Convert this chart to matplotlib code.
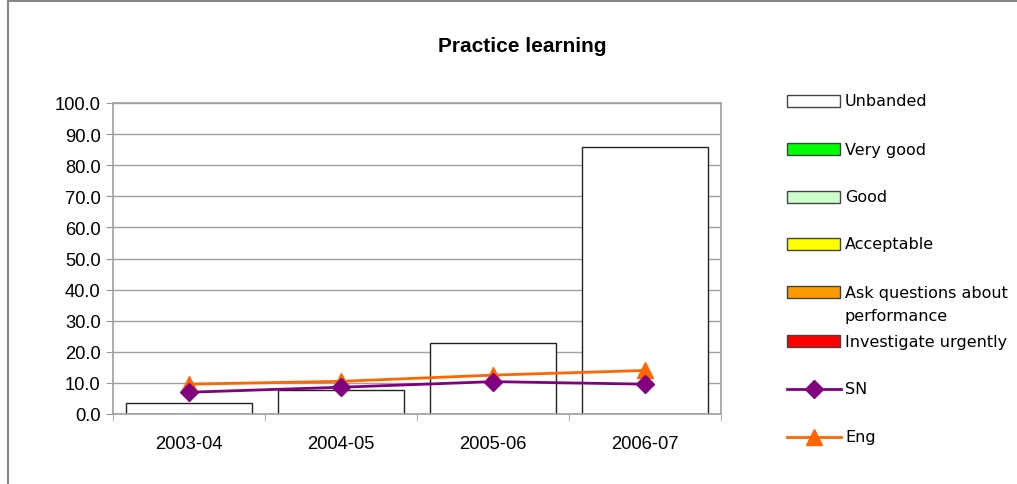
import matplotlib
matplotlib.use("Agg")
from matplotlib import pyplot as plt
from matplotlib.patches import Rectangle
from matplotlib.lines import Line2D
import numpy as np

# Data
years = ["2003-04", "2004-05", "2005-06", "2006-07"]
unbanded = [3.4, 7.8, 22.7, 85.7]
sn = [7.0, 8.6, 10.4, 9.6]
eng = [9.6, 10.5, 12.5, 14.0]

legend_names = ["Unbanded", "Very good", "Good", "Acceptable",
                "Ask questions about\nperformance", "Investigate urgently"]
legend_colors = ["#FFFFFF", "#00FF00", "#CCFFCC", "#FFFF00", "#FF9900", "#FF0000"]

W, H = 1017, 485
fig = plt.figure(figsize=(W / 100, H / 100), dpi=100)

# outer chart frame (top and left edges visible)
fig.add_artist(Line2D([8 / W, 8 / W], [0, 1 - 2 / H], transform=fig.transFigure,
                      color="#888888", lw=1.5))
fig.add_artist(Line2D([8 / W, 1], [1 - 2 / H, 1 - 2 / H], transform=fig.transFigure,
                      color="#888888", lw=1.5))

# plot area
x0, x1, y_top, y_bot = 113, 721, 104, 415
ax = fig.add_axes([x0 / W, 1 - y_bot / H, (x1 - x0) / W, (y_bot - y_top) / H])

x = np.arange(len(years))
ax.bar(x, unbanded, width=0.83, color="white", edgecolor="#222222", linewidth=1.0, zorder=2)
ax.plot(x, sn, color="#800080", lw=2, marker="D", markersize=9, zorder=4)
ax.plot(x, eng, color="#FF6600", lw=2, marker="^", markersize=11, zorder=3)

ax.set_xlim(-0.5, len(years) - 0.5)
ax.set_ylim(0, 100)
ax.set_yticks(np.arange(0, 101, 10))
ax.set_yticklabels([f"{v:.1f}" for v in np.arange(0, 101, 10)],
                   fontsize=13.2, family="Liberation Sans")
ax.set_xticks(x)
ax.set_xticklabels(years, fontsize=13.2, family="Liberation Sans")
ax.set_xticks(np.arange(-0.5, len(years), 1), minor=True)
ax.tick_params(axis="x", which="major", length=0, pad=15)
ax.tick_params(axis="x", which="minor", length=5, color="#999999")
ax.tick_params(axis="y", length=5, color="#999999", pad=4)
ax.grid(axis="y", color="#A0A0A0", lw=1, zorder=0)
ax.set_axisbelow(True)
for s in ax.spines.values():
    s.set_color("#A0A0A0")
    s.set_linewidth(1.2)

fig.text(522 / W, 1 - 47 / H, "Practice learning", ha="center", va="center",
         fontsize=15, fontweight="bold", family="Liberation Sans")

# legend
lx0, lx1, ltx = 787, 840, 845
rows_y = [102, 150, 198, 245, 293, 342]
fs_leg = 11.5
for name, col, yy in zip(legend_names, legend_colors, rows_y):
    fig.add_artist(Rectangle((lx0 / W, 1 - (yy + 6) / H), (lx1 - lx0) / W, 12 / H,
                             transform=fig.transFigure, facecolor=col,
                             edgecolor="#444444", lw=1))
    if "\n" in name:
        fig.text(ltx / W, 1 - (yy - 7) / H, name, ha="left", va="top",
                 fontsize=fs_leg, family="DejaVu Sans", linespacing=1.65)
    else:
        fig.text(ltx / W, 1 - yy / H, name, ha="left", va="center",
                 fontsize=fs_leg, family="DejaVu Sans")

for name, col, mk, ms, yy in [("SN", "#800080", "D", 9, 390), ("Eng", "#FF6600", "^", 11, 438)]:
    fig.add_artist(Line2D([lx0 / W, (lx1 + 1) / W], [1 - yy / H, 1 - yy / H],
                          transform=fig.transFigure, color=col, lw=2))
    fig.add_artist(Line2D([(lx0 + lx1) / 2 / W], [1 - yy / H], transform=fig.transFigure,
                          color=col, marker=mk, markersize=ms, lw=0))
    fig.text(ltx / W, 1 - yy / H, name, ha="left", va="center",
             fontsize=fs_leg, family="DejaVu Sans")

fig.savefig("out.png", dpi=100)
